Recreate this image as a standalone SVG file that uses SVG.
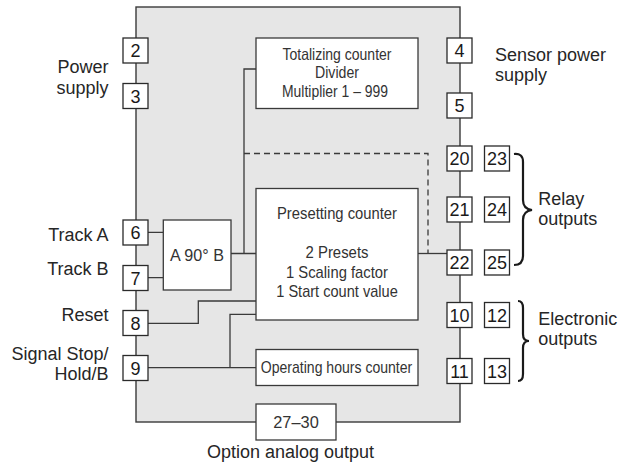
<svg xmlns="http://www.w3.org/2000/svg" width="622" height="466" viewBox="0 0 622 466">
<style>
.frame{fill:#e6e6e6;stroke:#3a3a3a;stroke-width:1.4}
.box{fill:#fff;stroke:#3a3a3a;stroke-width:1.3}
.term{fill:#fff;stroke:#2a2a2a;stroke-width:1.3}
.num{font-family:"Liberation Sans",Arial,sans-serif;font-size:18px;fill:#1a1a1a;text-anchor:middle}
.lbl{font-family:"Liberation Sans",Arial,sans-serif;font-size:18px;fill:#262626}
.bt{font-family:"Liberation Sans",Arial,sans-serif;font-size:17px;fill:#333;text-anchor:middle}
.bs{font-size:16.5px}
.r{text-anchor:end}
.wire{fill:none;stroke:#3a3a3a;stroke-width:1.3}
.dash{fill:none;stroke:#3a3a3a;stroke-width:1.3;stroke-dasharray:6 4}
.brace{fill:none;stroke:#1a1a1a;stroke-width:2.2}
</style>
<rect class="frame" x="136" y="7" width="324" height="415"/>
<g id="connectors">
<path class="wire" d="M256 69H244V253.5M231 253.5H256"/>
<path class="dash" d="M244 153.5H428V253.5"/>
<path class="wire" d="M418 253.5H447"/>
<path class="wire" d="M148 232.3H163M148 277.7H163"/>
<path class="wire" d="M148 323.3H198.3V301H256"/>
<path class="wire" d="M148 367.7H256M230 367.7V314.3H256"/>
</g>
<g id="totalizing"><rect class="box" x="256" y="38" width="162" height="70.5"/>
<text class="bt bs" x="337" y="59.5" textLength="109" lengthAdjust="spacingAndGlyphs">Totalizing counter</text>
<text class="bt bs" x="337" y="78" textLength="44" lengthAdjust="spacingAndGlyphs">Divider</text>
<text class="bt bs" x="335" y="96.5" textLength="106" lengthAdjust="spacingAndGlyphs">Multiplier 1 – 999</text></g>
<g id="presetting"><rect class="box" x="256" y="188.5" width="162" height="131.5"/>
<text class="bt" x="337" y="218.5" textLength="120" lengthAdjust="spacingAndGlyphs">Presetting counter</text>
<text class="bt" x="337" y="258.3" textLength="63" lengthAdjust="spacingAndGlyphs">2 Presets</text>
<text class="bt" x="337" y="277.6" textLength="102" lengthAdjust="spacingAndGlyphs">1 Scaling factor</text>
<text class="bt" x="337" y="296.9" textLength="121.5" lengthAdjust="spacingAndGlyphs">1 Start count value</text></g>
<g id="quadrature"><rect class="box" x="163.3" y="220" width="67.7" height="70"/>
<text class="bt" x="197" y="260.5" font-size="18" textLength="54" lengthAdjust="spacingAndGlyphs">A 90° B</text></g>
<g id="hours"><rect class="box" x="256" y="349.5" width="162" height="36"/>
<text class="bt" x="336.5" y="373" font-size="18" textLength="151.5" lengthAdjust="spacingAndGlyphs">Operating hours counter</text></g>
<g id="analog"><rect class="box" x="256" y="404" width="80" height="36"/>
<text class="bt" x="296" y="428" font-size="18" textLength="45.5" lengthAdjust="spacingAndGlyphs">27–30</text></g>
<g id="t2"><rect class="term" x="123" y="38" width="25" height="25"/><text class="num" x="135.5" y="57">2</text></g>
<g id="t3"><rect class="term" x="123" y="83.5" width="25" height="25"/><text class="num" x="135.5" y="102.5">3</text></g>
<g id="t6"><rect class="term" x="123" y="220" width="25" height="25"/><text class="num" x="135.5" y="239">6</text></g>
<g id="t7"><rect class="term" x="123" y="265.5" width="25" height="25"/><text class="num" x="135.5" y="284.5">7</text></g>
<g id="t8"><rect class="term" x="123" y="310.5" width="25" height="25"/><text class="num" x="135.5" y="329.5">8</text></g>
<g id="t9"><rect class="term" x="123" y="355.5" width="25" height="25"/><text class="num" x="135.5" y="374.5">9</text></g>
<g id="t4"><rect class="term" x="447" y="38" width="25" height="25"/><text class="num" x="459.5" y="57">4</text></g>
<g id="t5"><rect class="term" x="447" y="93" width="25" height="25"/><text class="num" x="459.5" y="112">5</text></g>
<g id="t20"><rect class="term" x="447" y="146" width="25" height="25"/><text class="num" x="459.5" y="165">20</text></g>
<g id="t21"><rect class="term" x="447" y="197" width="25" height="25"/><text class="num" x="459.5" y="216">21</text></g>
<g id="t22"><rect class="term" x="447" y="250" width="25" height="25"/><text class="num" x="459.5" y="269">22</text></g>
<g id="t10"><rect class="term" x="447" y="302.5" width="25" height="25"/><text class="num" x="459.5" y="321.5">10</text></g>
<g id="t11"><rect class="term" x="447" y="358.5" width="25" height="25"/><text class="num" x="459.5" y="377.5">11</text></g>
<g id="t23"><rect class="term" x="484.5" y="146" width="25" height="25"/><text class="num" x="497" y="165">23</text></g>
<g id="t24"><rect class="term" x="484.5" y="197" width="25" height="25"/><text class="num" x="497" y="216">24</text></g>
<g id="t25"><rect class="term" x="484.5" y="250" width="25" height="25"/><text class="num" x="497" y="269">25</text></g>
<g id="t12"><rect class="term" x="484.5" y="302.5" width="25" height="25"/><text class="num" x="497" y="321.5">12</text></g>
<g id="t13"><rect class="term" x="484.5" y="358.5" width="25" height="25"/><text class="num" x="497" y="377.5">13</text></g>
<g id="labels">
<text class="lbl r" x="108.5" y="73.3">Power</text>
<text class="lbl r" x="108.5" y="94">supply</text>
<text class="lbl r" x="108.5" y="240.7">Track A</text>
<text class="lbl r" x="108.5" y="275">Track B</text>
<text class="lbl r" x="108.5" y="320.7">Reset</text>
<text class="lbl r" x="108.5" y="359.5">Signal Stop/</text>
<text class="lbl r" x="108.5" y="379.8">Hold/B</text>
<text class="lbl" x="495" y="60.7">Sensor power</text>
<text class="lbl" x="495" y="81">supply</text>
<text class="lbl" x="538.3" y="204.5">Relay</text>
<text class="lbl" x="538.3" y="224.5">outputs</text>
<text class="lbl" x="538.3" y="325">Electronic</text>
<text class="lbl" x="538.3" y="345">outputs</text>
<text class="lbl" x="290.5" y="458.3" text-anchor="middle" font-size="18.5">Option analog output</text>
</g>
<g id="braces">
<path class="brace" d="M514 154Q523 153 523 162V200Q523 209 532 210Q523 211 523 220V256Q523 265 514 265"/>
<path class="brace" d="M518 301Q523 301 523 308V334Q523 341 529 341Q523 341 523 348V374Q523 381 518 381"/>
</g>
</svg>
